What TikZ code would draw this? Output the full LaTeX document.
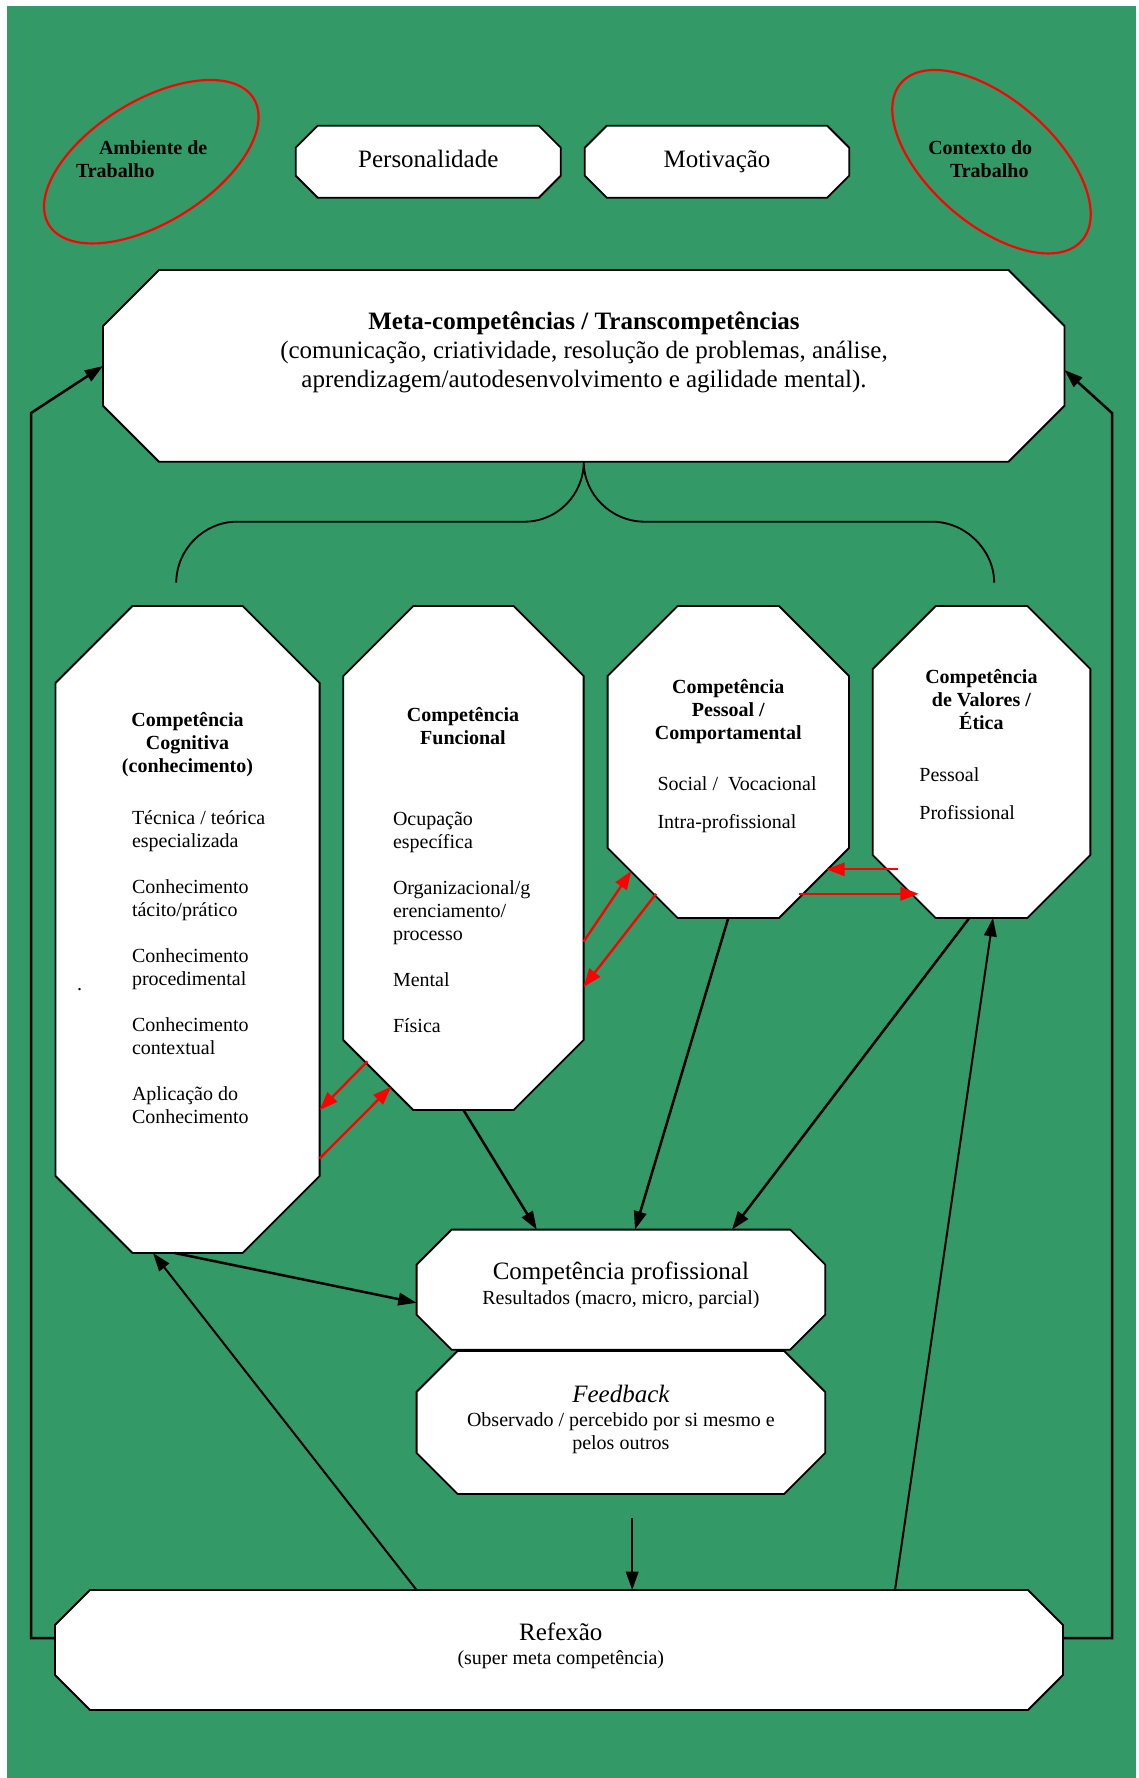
\documentclass[tikz,border=0pt]{standalone}
\usepackage{fontspec}
\setmainfont{Liberation Serif}
\usetikzlibrary{arrows.meta,calc,fit}
\newdimen\px \px=0.6pt
\definecolor{seagreen}{RGB}{51,153,102}
\newcommand\szA{\fontsize{12}{13.8}\selectfont}
\newcommand\szB{\fontsize{15}{17.4}\selectfont}
% chamfered outline drawn over a fitted frame node: name, chamfer dx, chamfer dy
\newcommand\chbox[3]{%
  \path[boxline] ($(#1.north west)+(#2,0)$) -- ($(#1.north east)+(-#2,0)$)
    -- ($(#1.north east)+(0,#3)$) -- ($(#1.south east)+(0,-#3)$)
    -- ($(#1.south east)+(-#2,0)$) -- ($(#1.south west)+(#2,0)$)
    -- ($(#1.south west)+(0,-#3)$) -- ($(#1.north west)+(0,#3)$) -- cycle;}
\begin{document}
\begin{tikzpicture}[x=0.6pt,y=-0.6pt,
  txt/.style={inner sep=0pt, outer sep=0pt, text=black},
  frame/.style={inner sep=0pt, outer sep=0pt, draw=none},
  boxline/.style={draw=black, line width=1.1pt, fill=white, line join=miter},
  ring/.style={draw=red, line width=1.3pt},
  conn/.style={draw=black, line width=1.5pt, line join=miter, -{Triangle[length=11pt,width=7.5pt]}},
  thinconn/.style={conn, line width=1.2pt},
  redconn/.style={draw=red, line width=1.4pt, -{Triangle[length=11pt,width=8pt]}},
  brace/.style={draw=black, line width=1.1pt}]

\useasboundingbox (0,0) rectangle (1139,1778);
\fill[white] (0,0) rectangle (1139,1778);
\fill[seagreen] (7,6) rectangle (1136,1778);

% context ellipses
\draw[ring, rotate around={31.7:(151.3,161.7)}] (151.3,161.7) ellipse [x radius=120.3, y radius=60.9];
\draw[ring, rotate around={-41.1:(991.5,161.7)}] (991.5,161.7) ellipse [x radius=119.9, y radius=62.3];
\node[txt, anchor=base west] (ambT) at (76,154)
  {\parbox[t]{170\px}{\raggedright\szA\bfseries\hspace*{23\px}Ambiente de\\Trabalho}};
\node[txt, anchor=base west] (ctxT) at (928.3,154)
  {\parbox[t]{170\px}{\raggedright\szA\bfseries Contexto do\\\hspace*{21.7\px}Trabalho}};

% frames of the boxes
\node[frame, fit={(295.7,125.7) (560.8,197.7)}] (pers) {};
\node[frame, fit={(584.8,125.7) (849.2,197.7)}] (motiv) {};
\node[frame, fit={(103,270) (1064.5,461.7)}] (meta) {};
\node[frame, fit={(55.5,606) (319.6,1253)}] (cog) {};
\node[frame, fit={(343.3,606) (583.6,1110)}] (func) {};
\node[frame, fit={(607.6,606) (849,918)}] (pess) {};
\node[frame, fit={(872.7,606) (1090.4,918)}] (val) {};
\node[frame, fit={(416.6,1229.6) (825.2,1349.7)}] (cp) {};
\node[frame, fit={(416.6,1350.9) (825.2,1493.9)}] (fb) {};
\node[frame, fit={(55,1590) (1063,1710)}] (refl) {};

\chbox{pers}{22}{22}
\chbox{motiv}{22}{22}
\chbox{meta}{56}{56}
\chbox{cog}{77}{77}
\chbox{func}{70}{70}
\chbox{pess}{70}{70}
\chbox{val}{63}{63}
\chbox{cp}{35}{35}
\chbox{fb}{41}{41}
\chbox{refl}{35}{35}

% texts
\node[txt, anchor=base] (persT) at (428.3,167) {\szB Personalidade};
\node[txt, anchor=base] (motivT) at (717,167) {\szB Motivação};
\node[txt, anchor=base] (metaT) at (584,329.5) {\parbox[t]{900\px}{\centering\szB
  \textbf{Meta-competências / Transcompetências}\\
  (comunicação, criatividade, resolução de problemas, análise,\\
  aprendizagem/autodesenvolvimento e agilidade mental).}};

\node[txt, anchor=base] (cogT) at (187.5,726.5) {\parbox[t]{240\px}{\centering\szA\bfseries
  Competência\\Cognitiva\\(conhecimento)}};
\node[txt, anchor=base west] (cogI) at (132,824) {\parbox[t]{180\px}{\raggedright\szA
  Técnica / teórica\\especializada\\[13.8pt]
  Conhecimento\\tácito/prático\\[13.8pt]
  Conhecimento\\procedimental\\[13.8pt]
  Conhecimento\\contextual\\[13.8pt]
  Aplicação do\\Conhecimento}};
\node[txt, anchor=base] (dot) at (79.6,990) {\szA .};

\node[txt, anchor=base] (funcT) at (463,721.3) {\parbox[t]{220\px}{\centering\szA\bfseries
  Competência\\Funcional}};
\node[txt, anchor=base west] (funcI) at (393,825.7) {\parbox[t]{180\px}{\raggedright\szA
  Ocupação\\específica\\[13.8pt]
  Organizacional/g\\erenciamento/\\processo\\[13.8pt]
  Mental\\[13.8pt]
  Física}};

\node[txt, anchor=base] (pessT) at (728.3,693) {\parbox[t]{230\px}{\centering\szA\bfseries
  Competência\\Pessoal /\\Comportamental}};
\node[txt, anchor=base west] (pessI) at (657.5,790.7) {\parbox[t]{180\px}{\raggedright\szA
  Social /\ \ Vocacional\\[9pt]Intra-profissional}};

\node[txt, anchor=base] (valT) at (981.4,683.3) {\parbox[t]{200\px}{\centering\szA\bfseries
  Competência\\de Valores /\\Ética}};
\node[txt, anchor=base west] (valI) at (919.4,781) {\parbox[t]{160\px}{\raggedright\szA
  Pessoal\\[9pt]Profissional}};

\node[txt, anchor=base] (cpT) at (620.9,1279.5) {\szB Competência profissional};
\node[txt, anchor=base] (cpS) at (620.9,1304) {\szA Resultados (macro, micro, parcial)};
\node[txt, anchor=base] (fbT) at (620.9,1402.7) {\szB\itshape Feedback};
\node[txt, anchor=base] (fbS) at (620.9,1426.3) {\parbox[t]{380\px}{\centering\fontsize{12}{14.2}\selectfont
  Observado / percebido por si mesmo e\\pelos outros}};
\node[txt, anchor=base] (reflT) at (560.8,1640) {\szB Refexão};
\node[txt, anchor=base] (reflS) at (560.8,1664.6) {\szA (super meta competência)};

% brace joining the competences to the meta-competences
\draw[brace] ($(meta.south)+(-407.5,121)$) .. controls +(0,-33) and +(-33,0) .. ($(meta.south)+(-347,60)$)
  -- ($(meta.south)+(-59.4,60)$) .. controls +(33,0) and +(0,33) .. (meta.south)
  .. controls +(0,33) and +(-33,0) .. ($(meta.south)+(60.8,60)$)
  -- ($(meta.south)+(348.5,60)$) .. controls +(33,0) and +(0,-33) .. ($(meta.south)+(410.4,121)$);

% feedback loops around the sides
\coordinate (ltop) at (31,413);
\coordinate (rtop) at (1112,413);
\draw[conn] ($(refl.north west)+(0,48)$) -| (ltop) -- ($(meta.north west)+(0,96)$);
\draw[conn] ($(refl.north east)+(0,48)$) -| (rtop) -- ($(meta.north east)+(0,100)$);

% competences into professional competence
\draw[conn] (func.south) -- ($(cp.north west)+(120.2,0)$);
\draw[conn] (pess.south) -- ($(cp.north west)+(218.4,0)$);
\draw[conn] ($(val.south west)+(96.6,0)$) -- ($(cp.north west)+(315.4,0)$);
\draw[conn] ($(cog.south west)+(119.3,0)$) -- ($(cp.north west)+(0,73.2)$);

% reflection back to the competences
\draw[thinconn] ($(refl.north west)+(361.6,0)$) -- ($(cog.south west)+(97.5,0)$);
\draw[thinconn] ($(refl.north west)+(840,0)$) -- ($(val.south west)+(120.3,0)$);
\coordinate (fbout) at (632.2,1517.5);
\draw[thinconn] (fbout) -- ($(refl.north west)+(577.2,0)$);

% exchanges between neighbouring competences
\draw[redconn] ($(func.south west)+(24.1,-48.7)$) -- ($(cog.south east)+(0,-143)$);
\draw[redconn] ($(cog.south east)+(0,-94.5)$) -- ($(func.south west)+(47.8,-23.3)$);
\draw[redconn] ($(func.north east)+(0,335.6)$) -- ($(pess.south west)+(23.7,-47)$);
\draw[redconn] ($(pess.south west)+(48.4,-24.2)$) -- ($(func.north east)+(0,381)$);
\draw[redconn] ($(val.south west)+(25.5,-48.7)$) -- ($(pess.south east)+(-22.6,-48.7)$);
\draw[redconn] ($(pess.south east)+(-50,-24.2)$) -- ($(val.south west)+(46,-24.2)$);
\end{tikzpicture}
\end{document}
